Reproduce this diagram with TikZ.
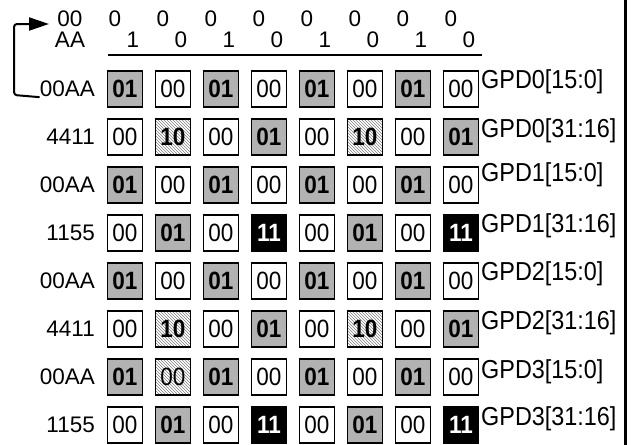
\documentclass[tikz,border=0pt]{standalone}
\usepackage{fontspec}
\setmainfont{Liberation Sans}
\newfontfamily\tallfont[FakeStretch=0.9]{Liberation Sans}
\usetikzlibrary{patterns,arrows.meta}
\definecolor{cellgray}{RGB}{178,178,178}
\begin{document}
\begin{tikzpicture}[x=1pt,y=-1pt,
  cell/.style={draw=black, line width=1.8pt, minimum width=35pt, minimum height=36pt,
    inner sep=0pt, font=\tallfont\fontsize{25}{25}\selectfont},
  cellW/.style={cell, fill=white, node contents={00}},
  cellG/.style={cell, fill=cellgray, font=\tallfont\fontsize{25}{25}\selectfont\bfseries, node contents={01}},
  cellB/.style={cell, fill=black, text=white, font=\tallfont\fontsize{25}{25}\selectfont\bfseries, node contents={11}},
  cellH/.style={cell, pattern=north west lines, pattern color=gray, font=\tallfont\fontsize{25}{25}\selectfont\bfseries, node contents={10}},
  cellX/.style={cell, pattern=north west lines, pattern color=gray, node contents={00}},
  lbl/.style={font=\fontsize{22.5}{22.5}\selectfont, inner sep=0pt},
  rlbl/.style={font=\tallfont\fontsize{26}{26}\selectfont, inner sep=0pt, anchor=west},
  conn/.style={line width=2pt, -{Triangle[length=20pt,width=13pt]}}
]
\useasboundingbox (0,0) rectangle (633,445);
% right border
\draw[line width=3pt] (625.5,0) -- (625.5,445);
% header
\node[lbl] (h00) at (70,19) {00};
\node[lbl] (hAA) at (70,40) {AA};
\foreach \b [count=\c] in {1,0,1,0,1,0,1,0} {
  \node[lbl] (ht\c) at ({115+48*(\c-1)},19) {0};
  \node[lbl] (hb\c) at ({133+48*(\c-1)},40) {\b};
}
\coordinate (ruleL) at (108,55);
\coordinate (ruleR) at (482,55);
\draw[line width=2pt] (ruleL) -- (ruleR);
% grid
\foreach \row [count=\r] in {{G,W,G,W,G,W,G,W},{W,H,W,G,W,H,W,G},{G,W,G,W,G,W,G,W},{W,G,W,B,W,G,W,B},
  {G,W,G,W,G,W,G,W},{W,H,W,G,W,H,W,G},{G,X,G,W,G,W,G,W},{W,G,W,B,W,G,W,B}} {
  \foreach \t [count=\c] in \row {
    \node (c\r-\c) at ({125+48*(\c-1)},{89+48*(\r-1)}) [cell\t];
  }
}
% left labels
\foreach \s [count=\r] in {00AA,4411,00AA,1155,00AA,4411,00AA,1155} {
  \node[lbl, anchor=east] (l\r) at (95,{89+48*(\r-1)}) {\s};
}
% right labels
\foreach \s/\yy [count=\r] in {GPD0[15:0]/82,GPD0[31:16]/131,GPD1[15:0]/175,GPD1[31:16]/226,
  GPD2[15:0]/274,GPD2[31:16]/323,GPD3[15:0]/372,GPD3[31:16]/419} {
  \node[rlbl] (r\r) at (481,\yy) {\s};
}
% arrow
\coordinate (tip) at (49,24);
\coordinate (cornerA) at (14,95);
\draw[conn, rounded corners=3pt] (l1.south west) -- (cornerA) -- (14,24) -- (tip);
\end{tikzpicture}
\end{document}
